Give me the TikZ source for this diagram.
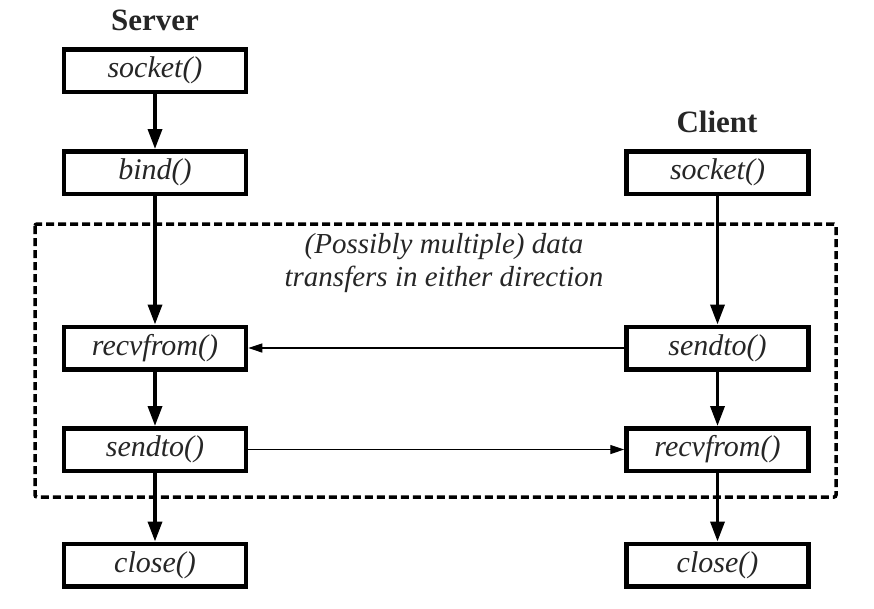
\documentclass[tikz,border=0pt]{standalone}
\usepackage{fontspec}
\setmainfont{Liberation Serif}
\usetikzlibrary{arrows.meta}
\begin{document}
\begin{tikzpicture}[x=1pt,y=-1pt,
  fbox/.style={draw=black,line width=4.5pt,minimum width=182pt,minimum height=42.5pt,
    inner sep=0pt,font=\fontsize{30}{32}\selectfont\itshape,text=black!85},
  head/.style={font=\fontsize{31}{33}\selectfont\bfseries,text=black!85},
  thick arrow/.style={line width=3.5pt,-{Triangle[length=20pt,width=14pt]}},
  thin arrow/.style={line width=1.2pt,-{Triangle[length=14pt,width=9pt]}},
  group/.style={draw=black,line width=3.5pt,dash pattern=on 8pt off 4pt,rounded corners=2pt}]
\useasboundingbox (0,0) rectangle (874,608);
\node[head] (server) at (155,20) {Server};
\node[head] (client) at (717,122) {Client};
\node[fbox] (ssock) at (155,70.5) {socket()};
\node[fbox] (sbind) at (155,172.5) {bind()};
\node[fbox] (srecv) at (155,348) {recvfrom()};
\node[fbox] (ssend) at (155,449.5) {sendto()};
\node[fbox] (sclose) at (155,565) {close()};
\node[fbox] (csock) at (717.5,172.5) {socket()};
\node[fbox] (csend) at (717.5,348) {sendto()};
\node[fbox] (crecv) at (717.5,449.5) {recvfrom()};
\node[fbox] (cclose) at (717.5,565) {close()};
\draw[group] (35,224) rectangle (836,497);
\node[font=\fontsize{29}{33}\selectfont\itshape,text=black!85,align=center] (note) at (444,263)
  {(Possibly multiple) data\\transfers in either direction};
\draw[thick arrow] (ssock) -- (sbind);
\draw[thick arrow] (sbind) -- (srecv);
\draw[thick arrow] (srecv) -- (ssend);
\draw[thick arrow] (ssend) -- (sclose);
\draw[thick arrow] (csock) -- (csend);
\draw[thick arrow] (csend) -- (crecv);
\draw[thick arrow] (crecv) -- (cclose);
\draw[thin arrow] (csend) -- (srecv);
\draw[thin arrow] (ssend) -- (crecv);
\end{tikzpicture}
\end{document}
